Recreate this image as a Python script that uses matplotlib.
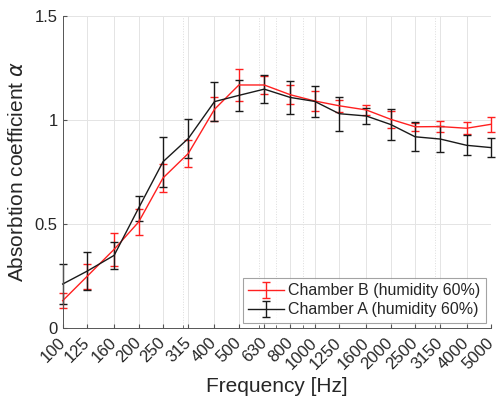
import numpy as np
import matplotlib
matplotlib.use('Agg')
import matplotlib.pyplot as plt
from matplotlib.ticker import FixedLocator, NullFormatter

plt.rcParams['font.family'] = ['Liberation Sans', 'DejaVu Sans']

# Frequency bands [Hz]
freqs = [100, 125, 160, 200, 250, 315, 400, 500, 630, 800,
         1000, 1250, 1600, 2000, 2500, 3150, 4000, 5000]
freq_labels = [str(f) for f in freqs]

# Chamber B (humidity 60%)
alpha_b = [0.13, 0.247, 0.377, 0.508, 0.72, 0.838, 1.05, 1.167, 1.167, 1.12,
           1.09, 1.067, 1.047, 1.002, 0.966, 0.967, 0.959, 0.978]
err_b = [0.035, 0.06, 0.08, 0.062, 0.066, 0.064, 0.058, 0.077, 0.045, 0.045,
         0.05, 0.03, 0.025, 0.04, 0.02, 0.028, 0.03, 0.035]

# Chamber A (humidity 60%)
alpha_a = [0.21, 0.272, 0.348, 0.575, 0.798, 0.91, 1.087, 1.117, 1.147, 1.107,
           1.088, 1.029, 1.018, 0.977, 0.918, 0.907, 0.877, 0.866]
err_a = [0.095, 0.092, 0.066, 0.06, 0.12, 0.095, 0.095, 0.075, 0.066, 0.08,
         0.075, 0.082, 0.04, 0.075, 0.07, 0.064, 0.048, 0.045]

txt = '#262626'

fig = plt.figure(figsize=(5.0, 4.03), dpi=100)
ax = fig.add_axes([0.1254, 0.1868, 0.8566, 0.7742])

for vals, errs, col, lab in [(alpha_b, err_b, '#ff2020', 'Chamber B (humidity 60%)'),
                             (alpha_a, err_a, '#1a1a1a', 'Chamber A (humidity 60%)')]:
    cont = ax.errorbar(freqs, vals, yerr=errs, color=col, lw=1.0, elinewidth=1.0,
                       capsize=3, capthick=1.0, label=lab)
    for art in cont.get_children():
        art.set_clip_on(False)

ax.set_xscale('log')
ax.set_xlim(100, 5000)
ax.set_ylim(0, 1.5)

ax.xaxis.set_major_locator(FixedLocator(freqs))
ax.set_xticklabels(freq_labels, rotation=45, ha='right', va='center',
                   rotation_mode='anchor', fontsize=12, color=txt)
ax.xaxis.set_minor_locator(FixedLocator([300, 600, 700, 900, 3000]))
ax.xaxis.set_minor_formatter(NullFormatter())

ax.set_yticks([0, 0.5, 1, 1.5])
ax.set_yticklabels(['0', '0.5', '1', '1.5'], fontsize=12, color=txt)

ax.grid(True, which='major', color='#e4e4e4', lw=0.7)
ax.grid(True, which='minor', color='#dddddd', lw=0.7, ls=':')
ax.set_axisbelow(True)

ax.tick_params(axis='both', which='both', direction='in', color='#555555', length=3)
ax.tick_params(axis='x', which='minor', length=2)
ax.tick_params(axis='x', which='major', pad=9)
for side in ['top', 'right']:
    ax.spines[side].set_visible(False)
for side in ['left', 'bottom']:
    ax.spines[side].set_color('#555555')
    ax.spines[side].set_linewidth(0.7)

ax.set_xlabel('Frequency [Hz]', fontsize=15, color=txt, labelpad=4)
ax.set_ylabel(r'Absorbtion coefficient $\alpha$', fontsize=15, color=txt, labelpad=6)

leg = ax.legend(loc='lower right', fontsize=11.5, frameon=True, fancybox=False,
                edgecolor='#8c8c8c', borderaxespad=0.3, handlelength=2.2,
                borderpad=0.35, labelspacing=0.25, handletextpad=0.3)
leg.get_frame().set_linewidth(0.8)
for t in leg.get_texts():
    t.set_color(txt)

fig.savefig('out.png', dpi=100)
